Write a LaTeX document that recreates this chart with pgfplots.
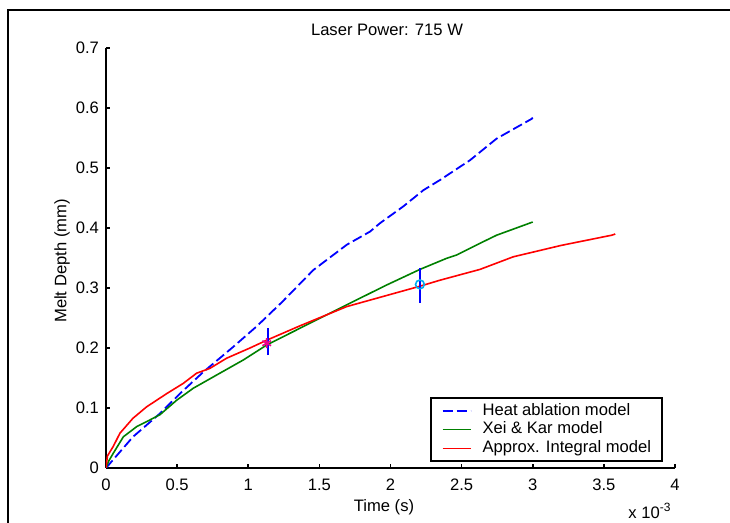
\documentclass[border=0pt]{standalone}
\usepackage{pgfplots}
\pgfplotsset{compat=1.18}
\usepackage{fontspec}
\setmainfont{Liberation Sans}
\definecolor{mgreen}{RGB}{0,128,0}

\begin{document}
\begin{tikzpicture}
\begin{axis}[
  at={(53pt,-234pt)}, anchor=south west,
  scale only axis, width=284.5pt, height=210pt,
  xmin=0, xmax=4, ymin=0, ymax=0.7,
  axis lines=left, axis line style={-, line width=0.8pt, black},
  tick align=inside, major tick length=2pt,
  tick style={black, line width=0.8pt},
  xtick={0,0.5,1,1.5,2,2.5,3,3.5,4},
  ytick={0,0.1,0.2,0.3,0.4,0.5,0.6,0.7},
  xticklabels={0,0.5,1,1.5,2,2.5,3,3.5,4},
  yticklabels={0,0.1,0.2,0.3,0.4,0.5,0.6,0.7},
  xticklabel style={yshift=-2pt},
  font=\fontsize{8.3}{10}\selectfont,
  legend style={at={(axis description cs:0.5694,0.169)}, anchor=north west,
    draw=black, line width=0.8pt, inner xsep=5.5pt, inner ysep=1.75pt,
    font=\fontsize{8.3}{10}\selectfont,
    nodes={inner ysep=0.5pt, inner xsep=0pt, text height=6.4pt, text depth=2pt},
    column sep=5.5pt, row sep=0pt},
  legend cell align=left,
  legend image code/.code={\draw[#1] (0pt,0pt) -- (14pt,0pt);},
]
\addplot[blue, line width=0.9pt, dash pattern=on 5pt off 2pt] coordinates {
(0,0) (0.19,0.052) (0.38,0.091) (0.52,0.124) (0.684,0.16) (0.895,0.202)
(1.059,0.236) (1.235,0.276) (1.458,0.33) (1.692,0.372) (1.856,0.394)
(1.926,0.408) (2.09,0.436) (2.231,0.463) (2.348,0.48) (2.559,0.513)
(2.746,0.549) (2.993,0.582) (3.0,0.584)};
\addlegendentry{Heat ablation model}
\addplot[mgreen, line width=0.8pt] coordinates {
(0,0) (0.02,0.012) (0.051,0.0245) (0.122,0.052) (0.216,0.069) (0.3,0.079)
(0.38,0.089) (0.497,0.113) (0.614,0.133) (0.778,0.155) (0.965,0.18)
(1.13,0.205) (1.364,0.233) (1.692,0.272) (1.973,0.305) (2.207,0.331)
(2.395,0.3495) (2.465,0.355) (2.629,0.3745) (2.746,0.388) (3.0,0.41)};
\addlegendentry{Xei \& Kar model}
\addplot[red, line width=0.8pt] coordinates {
(0,0) (0.01,0.02) (0.051,0.036) (0.098,0.058) (0.19,0.083) (0.286,0.102)
(0.427,0.124) (0.543,0.141) (0.637,0.158) (0.73,0.166) (0.848,0.183)
(1.012,0.2) (1.13,0.213) (1.364,0.237) (1.692,0.269) (2.207,0.303)
(2.348,0.313) (2.629,0.331) (2.863,0.352) (3.2,0.371) (3.555,0.388) (3.58,0.39)};
\addlegendentry{Approx. Integral model}
\addplot[blue, line width=1pt, forget plot] coordinates {(1.14,0.188) (1.14,0.233)};
\addplot[blue, line width=1pt, forget plot] coordinates {(2.207,0.275) (2.207,0.333)};
\addplot[only marks, mark=asterisk, magenta, mark size=2.5pt, line width=0.8pt, forget plot] coordinates {(1.13,0.208)};
\addplot[only marks, mark=o, cyan, mark size=2.2pt, line width=0.8pt, forget plot] coordinates {(2.207,0.306)};
\end{axis}
\begin{scope}[x=0.5pt, y=-0.5pt, font=\fontsize{8.3}{10}\selectfont]
\draw[black, line width=1pt] (8,600) -- (8,10) -- (800,10);
\node at (387,30) {Laser Power: 715 W};
\node at (384,507) {Time (s)};
\node[rotate=90] at (62,261) {Melt Depth (mm)};
\node[anchor=base west, inner sep=0pt] at (628,519) {x 10\raisebox{0.9ex}{\fontsize{6}{7}\selectfont -3}};
\pgfresetboundingbox
\useasboundingbox (0,0) rectangle (730,523);
\end{scope}
\end{tikzpicture}
\end{document}
